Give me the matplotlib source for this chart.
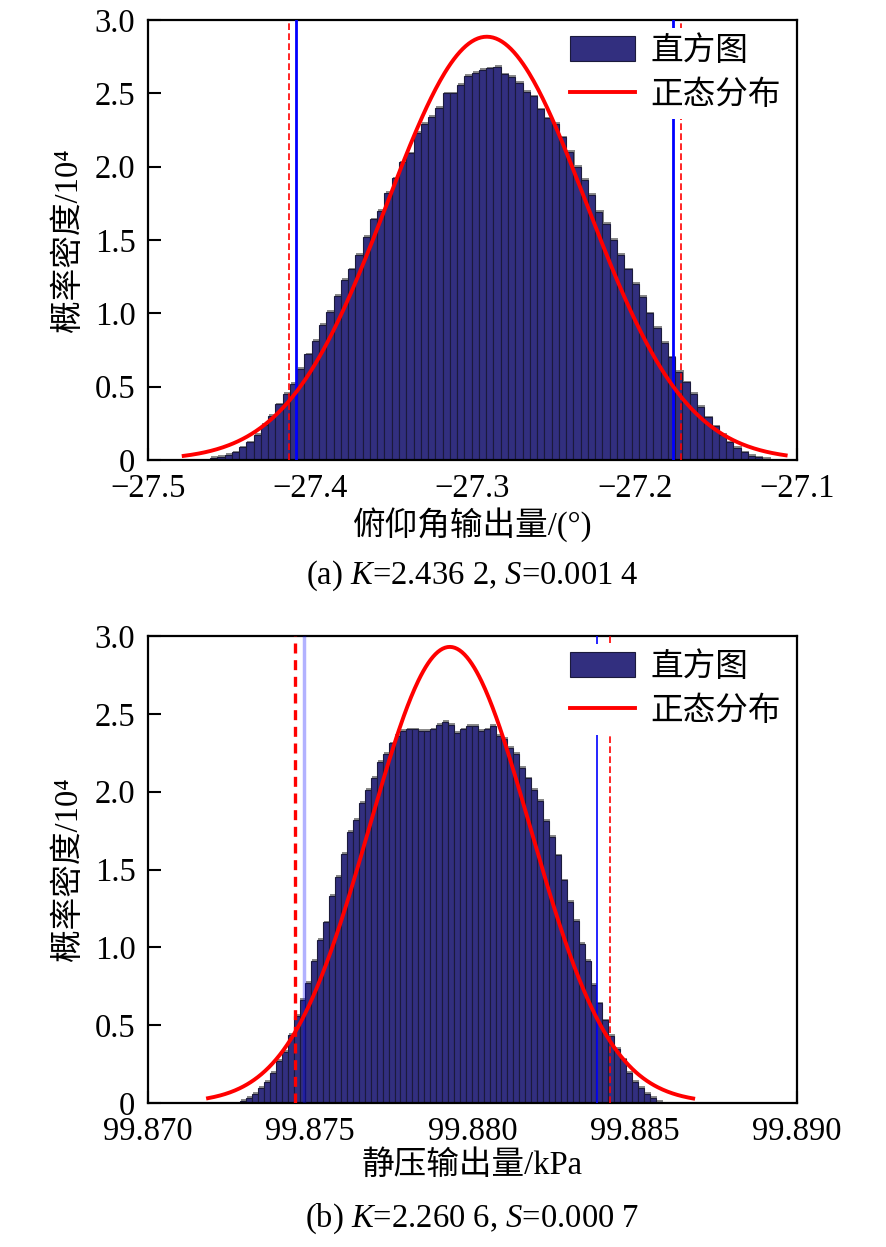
import numpy as np
import matplotlib
matplotlib.use("Agg")
from matplotlib import pyplot as plt
from matplotlib.ticker import FixedLocator, FixedFormatter

plt.rcParams['font.family'] = ['Liberation Serif', 'Noto Sans CJK SC']
plt.rcParams['mathtext.fontset'] = 'custom'
plt.rcParams['mathtext.rm'] = 'Liberation Serif'
plt.rcParams['mathtext.it'] = 'Liberation Serif:italic'
plt.rcParams['axes.unicode_minus'] = True

# (a) pitch angle histogram, /10^4
a_start = -27.4618
a_width = 0.00448
a_heights = [0.012, 0.023, 0.034, 0.052, 0.086, 0.12, 0.17, 0.24, 0.30, 0.38,
             0.45, 0.52, 0.62, 0.72, 0.81, 0.92, 1.01, 1.12, 1.23, 1.30,
             1.40, 1.52, 1.64, 1.70, 1.82, 1.92, 2.03, 2.09, 2.23, 2.29,
             2.34, 2.40, 2.50, 2.50, 2.56, 2.62, 2.64, 2.66, 2.67, 2.68,
             2.63, 2.61, 2.57, 2.51, 2.48, 2.39, 2.33, 2.29, 2.20, 2.10,
             2.00, 1.91, 1.81, 1.69, 1.61, 1.50, 1.40, 1.30, 1.20, 1.11,
             1.00, 0.90, 0.80, 0.70, 0.60, 0.53, 0.45, 0.36, 0.29, 0.23,
             0.17, 0.12, 0.084, 0.052, 0.030, 0.018, 0.009]
a_mu, a_sigma, a_peak = -27.2912, 0.0614, 2.886
a_curve_range = (-27.478, -27.107)
a_red = [-27.4129, -27.1715]
a_blue = [-27.409, -27.1764]

# (b) static pressure histogram, /10^4
b_start = 99.87284
b_width = 0.000183
b_heights = [0.013, 0.030, 0.058, 0.094, 0.137, 0.195, 0.27, 0.33, 0.44, 0.56,
             0.66, 0.77, 0.91, 1.05, 1.16, 1.33, 1.45, 1.60, 1.74, 1.82,
             1.93, 2.01, 2.09, 2.19, 2.24, 2.31, 2.36, 2.39, 2.40, 2.40,
             2.39, 2.39, 2.40, 2.43, 2.45, 2.43, 2.38, 2.40, 2.42, 2.42,
             2.39, 2.40, 2.42, 2.36, 2.34, 2.28, 2.24, 2.15, 2.085, 2.01,
             1.94, 1.81, 1.71, 1.59, 1.43, 1.29, 1.17, 1.02, 0.91, 0.76,
             0.64, 0.53, 0.43, 0.35, 0.28, 0.195, 0.137, 0.094, 0.056, 0.030,
             0.009]
b_mu, b_sigma, b_peak = 99.8793, 0.00247, 2.93
b_curve_range = (99.87185, 99.8868)
b_red = [99.87453, 99.88424]
b_blue = [99.87481, 99.88383]

yticks = [0, 0.5, 1.0, 1.5, 2.0, 2.5, 3.0]
yticklabels = ['0', '0.5', '1.0', '1.5', '2.0', '2.5', '3.0']
a_xticks = [-27.5, -27.4, -27.3, -27.2, -27.1]
a_xticklabels = ['\u221227.5', '\u221227.4', '\u221227.3', '\u221227.2', '\u221227.1']
b_xticks = [99.870, 99.875, 99.880, 99.885, 99.890]
b_xticklabels = ['99.870', '99.875', '99.880', '99.885', '99.890']

W, H = 886, 1247
fig = plt.figure(figsize=(W / 100, H / 100), dpi=100)
ax1 = fig.add_axes([148 / W, 1 - 460 / H, 649 / W, 440 / H])
ax2 = fig.add_axes([148 / W, 1 - 1103 / H, 649 / W, 467 / H])

FS = 23.5
bar_color = '#322f7f'


def draw(ax, start, width, heights, mu, sigma, peak, crange, xlim, xticks, xticklabels, xlabel):
    heights = np.array(heights)
    lefts = start + width * np.arange(len(heights))
    # gray shadow behind bars
    ax.bar(lefts + 0.15 * width, heights + 0.012, width=width, align='edge',
           color='#8a8a8a', linewidth=0, zorder=1)
    bars = ax.bar(lefts, heights, width=width, align='edge', color=bar_color,
                  edgecolor='#1b1a3c', linewidth=0.8, zorder=2)
    xs = np.linspace(crange[0], crange[1], 400)
    curve, = ax.plot(xs, peak * np.exp(-(xs - mu) ** 2 / (2 * sigma ** 2)),
                     color='#ff0000', lw=2.8, zorder=6)
    ax.set_xlim(*xlim)
    ax.set_ylim(0, 3.0)
    ax.xaxis.set_major_locator(FixedLocator(xticks))
    ax.xaxis.set_major_formatter(FixedFormatter(xticklabels))
    ax.yaxis.set_major_locator(FixedLocator(yticks))
    ax.yaxis.set_major_formatter(FixedFormatter(yticklabels))
    ax.tick_params(direction='in', length=9, width=1.5, labelsize=FS, top=False, right=False)
    ax.tick_params(axis='y', pad=9)
    ax.tick_params(axis='x', pad=10)
    for s in ax.spines.values():
        s.set_linewidth(1.6)
    ax.set_xlabel(xlabel, fontsize=FS, labelpad=2)
    ax.set_ylabel('概率密度/10\u2074', fontsize=FS, labelpad=8)
    leg = ax.legend([bars, curve], ['直方图', '正态分布'], loc='upper right',
                    fontsize=FS, frameon=True, fancybox=False,
                    edgecolor='none', facecolor='white', framealpha=1,
                    handlelength=2.0, handleheight=0.8, handletextpad=0.45,
                    labelspacing=0.4, borderpad=0.25, borderaxespad=0.25)
    leg.set_zorder(10)


draw(ax1, a_start, a_width, a_heights, a_mu, a_sigma, a_peak, a_curve_range,
     (-27.5, -27.1), a_xticks, a_xticklabels, '俯仰角输出量/(°)')
ax1.axvline(a_red[0], color='#ff0000', ls=(0, (4, 2)), lw=1.2, zorder=4)
ax1.axvline(a_red[1], color='#ff0000', ls=(0, (4, 2)), lw=1.2, zorder=4)
ax1.axvline(a_blue[0], color='#0000ff', lw=2.0, zorder=5)
ax1.axvline(a_blue[1], color='#0000ff', lw=2.0, zorder=5)

draw(ax2, b_start, b_width, b_heights, b_mu, b_sigma, b_peak, b_curve_range,
     (99.870, 99.890), b_xticks, b_xticklabels, '静压输出量/kPa')
ax2.axvline(b_red[0], color='#ff0000', ls=(0, (3, 2)), lw=2.4, zorder=4)
ax2.axvline(b_red[1], color='#ff0000', ls=(0, (4, 2)), lw=1.2, zorder=4)
ax2.axvline(b_blue[0], color='#0000ff', lw=2.5, alpha=0.3, zorder=5)
ax2.axvline(b_blue[1], color='#0000ff', lw=1.2, zorder=5)

fig.text(472 / W, 1 - 576 / H, '(a) $K$=2.436 2, $S$=0.001 4', fontsize=FS,
         ha='center', va='center')
fig.text(472 / W, 1 - 1219 / H, '(b) $K$=2.260 6, $S$=0.000 7', fontsize=FS,
         ha='center', va='center')

fig.savefig('out.png', dpi=100)
